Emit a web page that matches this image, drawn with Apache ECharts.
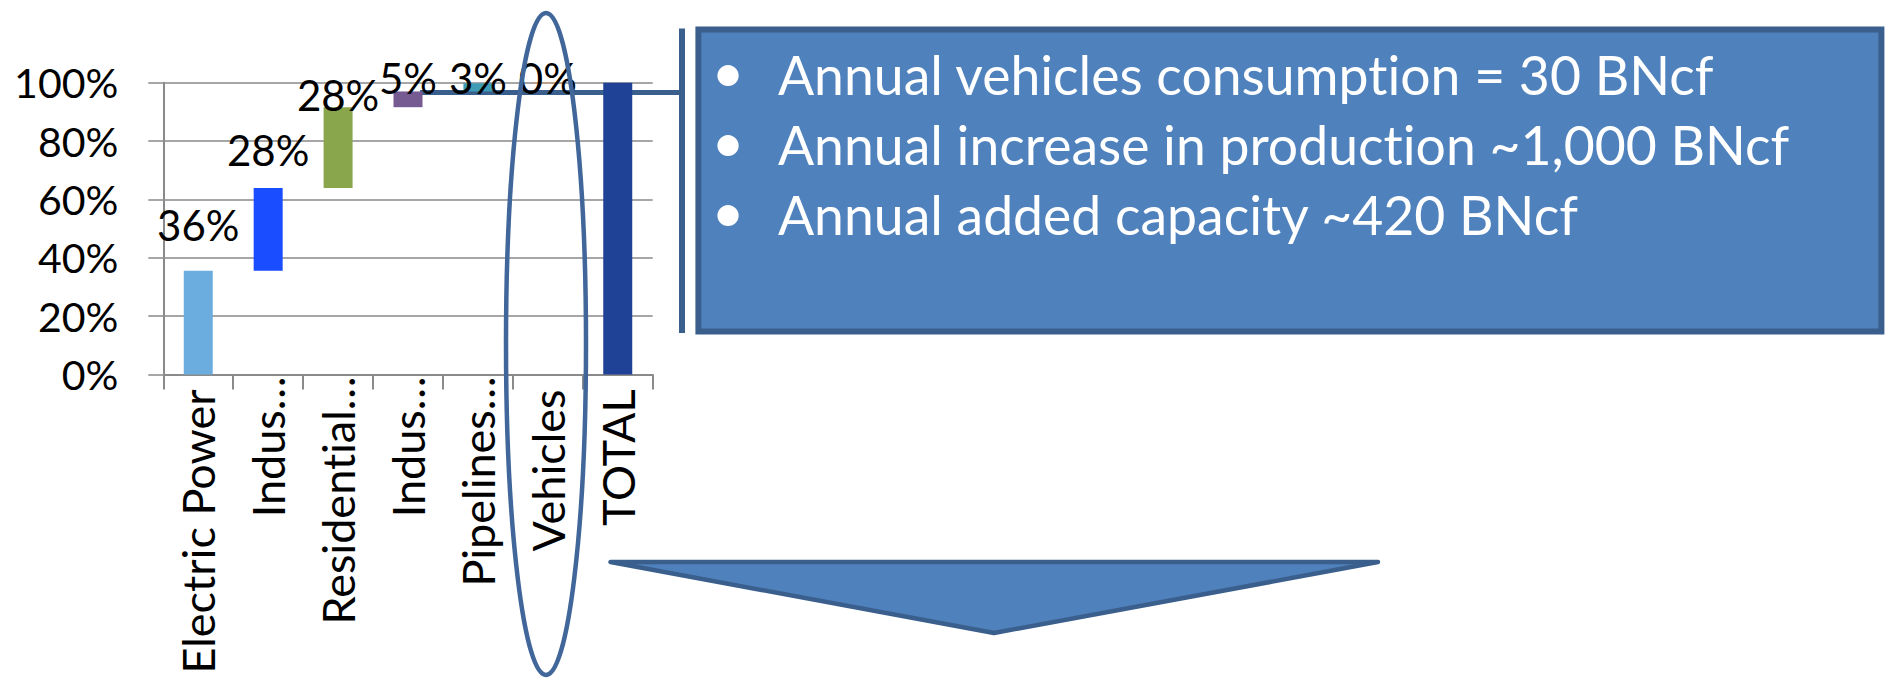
<!DOCTYPE html>
<html>
<head>
<meta charset="utf-8">
<script src="https://cdn.jsdelivr.net/npm/echarts@6/dist/echarts.min.js"></script>
<style>
  html, body { margin: 0; padding: 0; background: #ffffff; }
  #chart { width: 1888px; height: 681px; }
  #chart text { font-variant-ligatures: none; font-feature-settings: "liga" 0, "dlig" 0; }
</style>
</head>
<body>
<div id="chart"></div>
<script>
// Natural gas consumption by sector, shares of the total (%)
const categories = ['Electric Power', 'Indus…', 'Residential…', 'Indus…', 'Pipelines…', 'Vehicles', 'TOTAL'];
const shares = [35.5, 28.4, 27.7, 5.4, 2.8, 0.2];
const yTicks = { min: 0, max: 100, step: 20 };
const truncated = [false, true, true, true, true, false, false];
const bulletLines = [
  'Annual vehicles consumption = 30 BNcf',
  'Annual increase in production ~1,000 BNcf',
  'Annual added capacity ~420 BNcf'
];

const barColors = ['#6cade0', '#1a4dff', '#8aa64c', '#765a92', '#3e9cb4', '#f39a4a', '#1f4196'];
// baseline of each value label, in px above the top of its bar
const labelLift = [34, 26, 0, 1, -7, -7, 0];

const FONT = 'Lato';
const BOX_FILL = '#4f81bd';
const BOX_EDGE = '#3a5f8c';

// waterfall: an invisible base series carries each step up to its running total
const total = shares.reduce((a, b) => a + b, 0);
const baseVals = [];
let run = 0;
shares.forEach(v => { baseVals.push(+run.toFixed(2)); run += v; });
baseVals.push(0);
const stepVals = shares.concat([+total.toFixed(2)]);

const stepData = stepVals.map((v, i) => ({
  value: v,
  itemStyle: { color: barColors[i] },
  label: {
    show: i < shares.length,
    offset: [0, 9 - labelLift[i]]
  }
}));

const chart = echarts.init(document.getElementById('chart'), null, { renderer: 'svg' });

const bulletText = bulletLines.map((t, i) => ({
  type: 'text', z: 20,
  x: 778, y: 74 + i * 70,
  style: { text: t, fill: '#ffffff', fontFamily: FONT, fontSize: 53.5, align: 'left', verticalAlign: 'middle' }
}));
const bulletDots = bulletLines.map((t, i) => ({
  type: 'text', z: 20,
  x: 728, y: 70 + i * 70,
  style: { text: '•', fill: '#ffffff', fontFamily: FONT, fontSize: 57, align: 'center', verticalAlign: 'middle' }
}));

chart.setOption({
  backgroundColor: '#ffffff',
  animation: false,
  grid: { left: 163.3, right: 1235.3, top: 82.7, bottom: 306.6, containLabel: false, outerBoundsMode: 'none' },
  xAxis: {
    type: 'category',
    data: categories,
    boundaryGap: true,
    axisLine: { show: true, lineStyle: { color: '#8a8a8a', width: 2 } },
    axisTick: { show: true, length: 15, lineStyle: { color: '#8a8a8a', width: 2 } },
    splitLine: { show: false },
    axisLabel: {
      interval: 0,
      rotate: 90,
      margin: 2,
      color: '#000000',
      fontFamily: FONT,
      fontSize: 45,
      formatter: (v, i) => truncated[i] ? '{cut|' + v + '}' : '{full|' + v + '}',
      rich: {
        cut: { fontFamily: FONT, fontSize: 45, color: '#000000' },
        full: { fontFamily: FONT, fontSize: 45, color: '#000000', padding: [0, 13, 0, 0] }
      }
    }
  },
  yAxis: {
    type: 'value',
    min: yTicks.min,
    max: yTicks.max,
    interval: yTicks.step,
    axisLine: { show: true, lineStyle: { color: '#8a8a8a', width: 2 } },
    axisTick: { show: true, length: 15, lineStyle: { color: '#a6a6a6', width: 2 } },
    splitLine: { show: true, lineStyle: { color: '#a6a6a6', width: 2 } },
    axisLabel: {
      formatter: '{value}%',
      margin: 45,
      color: '#000000',
      fontFamily: FONT,
      fontSize: 41
    }
  },
  series: [
    {
      name: 'base',
      type: 'bar',
      stack: 'wf',
      barWidth: 29,
      silent: true,
      itemStyle: { color: 'rgba(0,0,0,0)' },
      data: baseVals
    },
    {
      name: 'share',
      type: 'bar',
      stack: 'wf',
      barWidth: 29,
      barMinHeight: 2,
      label: {
        show: true,
        position: 'top',
        distance: 0,
        color: '#000000',
        fontFamily: FONT,
        fontSize: 42,
        lineHeight: 42,
        formatter: p => Math.round(p.value) + '%'
      },
      data: stepData
    }
  ],
  graphic: [
    // connector from the chart to the note box
    { type: 'line', z: 1, shape: { x1: 420, y1: 92.4, x2: 682, y2: 92.4 },
      style: { stroke: BOX_EDGE, lineWidth: 5 } },
    { type: 'line', z: 20, shape: { x1: 682, y1: 28.5, x2: 682, y2: 333 },
      style: { stroke: BOX_EDGE, lineWidth: 6 } },
    // ring around the vehicles column
    { type: 'ellipse', z: 20, shape: { cx: 546, cy: 344, rx: 40, ry: 331 },
      style: { fill: null, stroke: '#41669a', lineWidth: 4.5 } },
    // note box
    { type: 'rect', z: 19, shape: { x: 698.4, y: 29.4, width: 1183, height: 302 },
      style: { fill: BOX_FILL, stroke: BOX_EDGE, lineWidth: 6 } },
    // down arrow
    { type: 'polygon', z: 19, shape: { points: [[610.5, 562], [1378, 562], [994, 633]] },
      style: { fill: BOX_FILL, stroke: BOX_EDGE, lineWidth: 4.5, lineJoin: 'round' } }
  ].concat(bulletDots, bulletText)
});
</script>
</body>
</html>
